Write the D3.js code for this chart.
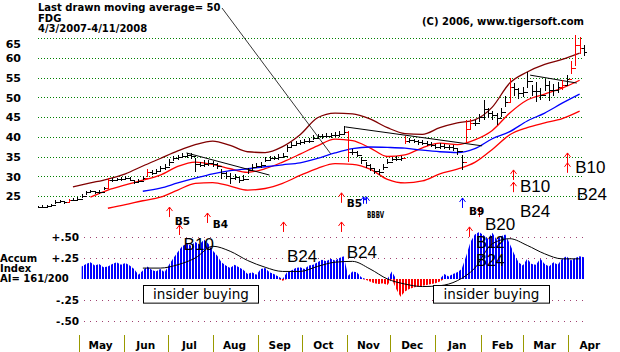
<!DOCTYPE html>
<html>
<head>
<meta charset="utf-8">
<script src="https://cdn.jsdelivr.net/npm/d3@7"></script>
<style>
body { margin: 0; background: #fff; }
svg { display: block; font-family: "DejaVu Sans", sans-serif; }
</style>
</head>
<body>
<svg id="chart" width="620" height="352"></svg>
<script>
// FDG daily bars, one every 3rd calendar day from 4/3/2007
let barStart = new Date(2007, 3, 3)
let closes = [
    22.2,22.3,22.5,22.8,23.5,23.7,23.4,23.9,24.1,24.2,
    25.0,25.9,26.3,25.9,26.1,27.0,29.1,29.0,29.2,29.3,
    29.6,29.1,28.5,28.9,29.6,31.0,30.9,31.3,32.0,32.3,
    33.5,34.5,34.8,35.2,35.3,35.1,33.2,32.9,33.1,33.3,
    33.1,32.6,30.9,30.1,29.6,29.8,29.0,29.4,31.6,32.3,
    32.7,32.9,34.2,34.5,34.6,34.9,35.2,37.4,38.0,38.4,
    38.6,38.8,38.9,39.8,40.2,40.1,40.3,40.4,40.5,40.7,
    41.2,36.2,36.1,35.5,34.0,32.8,32.1,31.4,31.0,32.3,
    33.6,34.4,34.4,34.5,38.8,39.1,38.9,38.6,38.5,38.2,
    38.0,37.5,37.6,37.5,37.3,37.2,36.3,33.5,42.0,43.6,
    43.5,45.0,47.0,46.0,45.5,44.8,46.2,48.8,52.5,52.0,
    51.0,51.3,54.2,51.5,51.5,50.6,53.0,51.8,51.8,52.6,
    53.2,54.5,57.5,63.2,62.5,61.5
]
let highs = [
    22.5,22.6,22.8,23.1,24.0,24.0,23.8,24.3,24.4,24.8,
    25.4,26.2,26.6,26.2,26.5,27.4,29.6,29.5,29.6,29.8,
    30.0,29.7,29.0,29.4,30.1,31.9,31.6,31.8,32.7,33.0,
    34.3,35.2,35.5,35.9,35.9,35.8,34.6,33.7,34.0,34.2,
    33.9,33.4,31.9,31.0,30.8,30.5,29.9,30.2,32.2,33.0,
    33.3,33.6,34.8,35.2,35.2,35.6,35.8,38.0,38.6,39.0,
    39.2,39.4,39.6,40.4,40.8,40.8,40.9,41.0,41.2,41.4,
    42.6,41.5,36.9,36.3,35.0,33.6,33.0,32.2,31.8,33.0,
    34.3,35.0,35.1,35.2,40.2,39.7,39.5,39.2,39.1,38.8,
    38.6,38.2,38.3,38.2,38.0,37.9,37.2,35.5,44.2,44.6,
    44.2,45.8,49.3,47.2,46.6,46.0,47.4,50.2,54.8,53.6,
    52.4,52.6,56.4,53.2,53.8,52.4,54.6,54.2,53.4,53.8,
    54.4,55.6,59.2,65.8,65.2,63.2
]
let lows = [
    22.0,22.0,22.2,22.5,23.1,23.4,23.1,23.6,23.7,23.9,
    24.6,25.3,25.8,25.5,25.6,26.4,26.8,28.6,28.8,28.9,
    29.1,28.7,28.0,28.3,29.1,29.7,30.3,30.7,31.3,31.7,
    32.6,33.8,34.2,34.6,34.7,34.4,31.0,32.3,32.4,32.6,
    32.4,31.8,29.4,29.4,28.0,29.0,28.3,28.7,30.6,31.7,
    32.0,32.2,33.5,33.8,34.0,34.2,34.5,36.2,37.3,37.8,
    38.0,38.2,38.3,39.2,39.6,39.5,39.7,39.8,39.9,40.0,
    40.5,33.6,35.4,34.8,33.2,32.0,31.4,30.6,30.3,31.6,
    33.0,33.8,33.8,33.9,38.2,38.5,38.3,38.0,37.9,37.6,
    37.4,36.9,37.0,36.9,36.6,36.5,35.3,31.5,38.4,41.8,
    42.6,43.8,44.2,44.8,44.3,43.0,45.0,47.6,48.6,50.4,
    49.6,50.0,52.4,50.2,48.8,49.4,51.6,49.0,50.4,51.2,
    51.8,53.2,56.0,58.0,61.0,60.4
]
// bars drawn in red
let redBars = [7, 16, 25, 71, 84, 98, 99, 108, 120, 122, 123, 124]

// Accumulation index, same dates as the bars
let accum = [
    null,null,null,null,null,null,null,null,null,null,
    0.15,0.18,0.20,0.16,0.18,0.14,0.15,0.18,0.20,0.17,
    0.19,0.16,0.12,0.05,0.10,0.15,0.11,0.09,0.12,0.08,
    0.17,0.25,0.32,0.39,0.42,0.40,0.44,0.41,0.47,0.42,
    0.34,0.28,0.20,0.16,0.13,0.17,0.14,0.11,0.06,0.08,
    0.05,0.12,0.13,0.08,0.06,0.03,-0.02,0.08,0.10,0.13,
    0.14,0.12,0.16,0.17,0.20,0.23,0.21,0.24,0.22,0.25,
    0.27,0.04,0.09,0.08,0.02,-0.01,-0.03,-0.05,-0.06,-0.05,
    -0.07,0.09,-0.12,-0.21,-0.15,-0.12,-0.10,-0.09,-0.08,-0.07,
    -0.06,-0.05,-0.03,0.06,0.03,0.06,0.08,0.12,0.27,0.44,
    0.53,0.56,0.52,0.48,0.55,0.47,0.51,0.53,0.42,0.30,
    0.20,0.16,0.24,0.18,0.17,0.24,0.18,0.15,0.20,0.17,
    0.24,0.27,0.22,0.25,0.27,0.26
]

// smooth lines, one value every 12 calendar days
let upperBand = [null,null,27.3,28.3,29.3,30.6,32.6,34.5,36.4,38.0,38.9,37.8,36.2,36.0,37.5,40.5,44.8,46.0,45.8,44.5,42.3,40.8,40.6,42.3,43.5,44.3,47.5,53.6,56.4,58.3,59.6,61.2]
let upperRed = [null,null,null,24.7,26.5,27.8,29.0,30.3,32.5,33.6,33.0,31.9,31.0,31.9,33.6,35.6,37.7,39.4,39.0,37.2,35.0,35.4,37.2,38.4,38.0,39.2,41.6,46.0,49.3,50.8,52.3,54.3]
let ma50 = [null,null,null,null,null,null,26.2,27.0,28.3,29.5,30.6,31.4,31.9,32.4,32.9,33.4,34.5,35.9,37.0,37.4,37.3,37.1,36.6,36.2,36.0,37.0,39.5,41.3,44.0,46.0,48.5,50.8]
let lowerRed = [null,null,null,null,21.9,22.8,23.8,24.7,26.5,28.2,28.4,27.5,26.5,26.9,28.2,30.2,32.0,33.2,33.0,31.8,29.2,28.3,28.8,30.6,31.8,33.5,36.8,40.5,42.3,43.5,44.6,46.5]
let accumMA = [null,null,null,null,null,null,0.13,0.13,0.17,0.25,0.39,0.33,0.22,0.14,0.09,0.09,0.15,0.20,0.21,0.12,0.00,-0.06,-0.09,-0.08,-0.02,0.13,0.42,0.48,0.40,0.30,0.24,0.24]

// trend lines: [from date, from price, to date, to price]
let trendLines = [
    ["2007-07-14", 35.9, "2007-09-09", 30.3],
    ["2007-10-31", 42.5, "2008-02-02", 37.7],
    ["2008-03-06", 55.6, "2008-04-07", 53.6]
]

let priceTicks = [25, 30, 35, 40, 45, 50, 55, 60, 65]
let accumTicks = [0.5, 0.25, -0.25, -0.5]
let accumTickLabels = ["+.50", "+.25", "-.25", "-.50"]
let monthNames = ["May","Jun","Jul","Aug","Sep","Oct","Nov","Dec","Jan","Feb","Mar","Apr"]

// signal arrows: date, panel ("p" price units, "a" accum units), tip level, color
let arrows = [
    ["2007-07-02", "p", 22.2, "red"],
    ["2007-07-09", "a", 0.643, "red"],
    ["2007-07-28", "p", 20.7, "red"],
    ["2007-09-18", "a", 0.679, "red"],
    ["2007-10-28", "p", 25.8, "red"],
    ["2007-10-28", "a", 0.679, "red"],
    ["2007-11-12", "p", 24.8, "blue"],
    ["2007-11-14", "p", 24.8, "blue"],
    ["2008-01-19", "p", 24.5, "blue"],
    ["2008-01-31", "p", 22.2, "red"],
    ["2008-01-24", "a", 0.62, "red"],
    ["2008-02-23", "p", 31.6, "red"],
    ["2008-02-23", "p", 28.5, "red"],
    ["2008-03-31", "p", 35.9, "red"],
    ["2008-03-31", "p", 33.4, "red"]
]
// signal names: date, panel, baseline level, big/small
let signalNames = [
    ["B5", "2007-07-06", "p", 17.7, 0],
    ["B4", "2007-08-01", "p", 16.9, 0],
    ["B10", "2007-07-12", "a", 0.345, 1],
    ["B24", "2007-09-21", "a", 0.202, 1],
    ["B5", "2007-11-01", "p", 22.2, 0],
    ["B24", "2007-11-01", "a", 0.25, 1],
    ["B9", "2008-01-24", "p", 20.2, 0],
    ["B20", "2008-02-04", "p", 16.4, 1],
    ["B10", "2008-02-28", "p", 26.0, 1],
    ["B24", "2008-02-28", "p", 19.7, 1],
    ["B10", "2008-04-06", "p", 30.8, 1],
    ["B24", "2008-04-07", "p", 24.0, 1],
    ["B12", "2008-01-29", "a", 0.37, 1],
    ["B24", "2008-01-29", "a", 0.15, 1]
]
// the cramped cluster of small signal names in November
let crampedSignals = ["BBBV", "2007-11-15", 19.4]
// insider buying boxes: from, to
let insiderBuying = [["2007-06-14", "2007-09-01"], ["2007-12-30", "2008-03-19"]]

let parseDate = d3.timeParse("%Y-%m-%d")
let svg = d3.select("#chart")

let x = d3.scaleTime()
    .domain([barStart, new Date(2008, 3, 12)])
    .range([38, 584])
let y = d3.scaleLinear().domain([25, 65]).range([196, 38])
let ya = d3.scaleLinear().domain([-0.5, 0.5]).range([321, 237])

let barDates = closes.map((c, i) => d3.timeDay.offset(barStart, 3 * i))
let curveDates = upperBand.map((c, i) => d3.timeDay.offset(barStart, 12 * i))

// stripe patterns for the accumulation histogram
let defs = svg.append("defs")
function stripes(id, color) {
    let p = defs.append("pattern").attr("id", id)
        .attr("patternUnits", "userSpaceOnUse")
        .attr("width", 3).attr("height", 4)
    p.append("rect").attr("width", 2).attr("height", 4).attr("fill", color)
}
stripes("blueStripes", "#0000ff")
stripes("redStripes", "#ff0000")

// price grid
svg.append("g").selectAll("line").data(priceTicks).join("line")
    .attr("x1", 38).attr("x2", 583)
    .attr("y1", d => Math.round(y(d)) + 0.5).attr("y2", d => Math.round(y(d)) + 0.5)
    .attr("stroke", "#008000").attr("stroke-dasharray", "1,2")

let yAxis = svg.append("g")
    .attr("transform", "translate(21,0)")
    .call(d3.axisLeft(y).tickValues(priceTicks).tickSize(0).tickPadding(0))
yAxis.select(".domain").remove()
yAxis.selectAll("text")
    .attr("font-family", "DejaVu Sans").attr("font-weight", "bold").attr("font-size", 11)
    .attr("fill", "#000")
    .attr("dy", d => d == 65 ? "0.85em" : "0.35em")

// accum grid
svg.append("g").selectAll("line").data(accumTicks).join("line")
    .attr("x1", 84).attr("x2", 583)
    .attr("y1", d => Math.round(ya(d)) + 0.5).attr("y2", d => Math.round(ya(d)) + 0.5)
    .attr("stroke", "#a04070").attr("stroke-dasharray", "1,5")
svg.append("g").selectAll("text").data(accumTicks).join("text")
    .attr("x", 79).attr("y", d => ya(d) + 4)
    .attr("text-anchor", "end")
    .attr("font-weight", "bold").attr("font-size", 10.5)
    .text((d, i) => accumTickLabels[i])

// accumulation histogram
let accumRows = barDates.map((d, i) => ({date: d, v: accum[i]}))
svg.append("path")
    .datum(accumRows)
    .attr("fill", "url(#blueStripes)")
    .attr("d", d3.area().defined(d => d.v != null)
        .x(d => x(d.date)).y0(ya(0)).y1(d => ya(Math.max(d.v, 0))))
svg.append("path")
    .datum(accumRows)
    .attr("fill", "url(#redStripes)")
    .attr("d", d3.area().defined(d => d.v != null)
        .x(d => x(d.date)).y0(ya(0)).y1(d => ya(Math.min(d.v, 0))))

let smooth = d3.line()
    .defined(d => d.v != null)
    .x(d => x(d.date))
    .curve(d3.curveMonotoneX)

svg.append("path")
    .datum(curveDates.map((d, i) => ({date: d, v: accumMA[i]})))
    .attr("fill", "none").attr("stroke", "#000").attr("stroke-width", 1)
    .attr("d", smooth.y(d => ya(d.v)))

// bands and moving average
let bands = [[upperBand, "#800000"], [upperRed, "#ff0000"], [ma50, "#0000ff"], [lowerRed, "#ff0000"]]
for (let [vals, color] of bands) {
    svg.append("path")
        .datum(curveDates.map((d, i) => ({date: d, v: vals[i]})))
        .attr("fill", "none").attr("stroke", color).attr("stroke-width", 1.3)
        .attr("d", smooth.y(d => y(d.v)))
}

// trend lines
svg.append("g").selectAll("line").data(trendLines).join("line")
    .attr("x1", d => x(parseDate(d[0]))).attr("y1", d => y(d[1]))
    .attr("x2", d => x(parseDate(d[2]))).attr("y2", d => y(d[3]))
    .attr("stroke", "#000").attr("stroke-width", 1)

// price bars: high-low line, previous close on the left, close on the right
let bars = svg.append("g").attr("shape-rendering", "crispEdges")
barDates.forEach(function(d, i) {
    let bx = Math.round(x(d)) + 0.5
    let color = redBars.includes(i) ? "#ff0000" : "#000"
    bars.append("line")
        .attr("x1", bx).attr("x2", bx)
        .attr("y1", y(highs[i])).attr("y2", y(lows[i]))
        .attr("stroke", color)
    if (i > 0) {
        bars.append("line")
            .attr("x1", bx - 2.5).attr("x2", bx)
            .attr("y1", Math.round(y(closes[i - 1])) + 0.5).attr("y2", Math.round(y(closes[i - 1])) + 0.5)
            .attr("stroke", color)
    }
    bars.append("line")
        .attr("x1", bx).attr("x2", bx + 2.5)
        .attr("y1", Math.round(y(closes[i])) + 0.5).attr("y2", Math.round(y(closes[i])) + 0.5)
        .attr("stroke", color).attr("stroke-width", 1.5)
})

// title texts
svg.append("text").attr("x", 38).attr("y", 11)
    .attr("font-weight", "bold").attr("font-size", 10)
    .text("Last drawn moving average= 50")
svg.append("text").attr("x", 38).attr("y", 22)
    .attr("font-weight", "bold").attr("font-size", 10)
    .text("FDG")
svg.append("text").attr("x", 38).attr("y", 32)
    .attr("font-weight", "bold").attr("font-size", 10)
    .text("4/3/2007-4/11/2008")
svg.append("text").attr("x", 422).attr("y", 25)
    .attr("font-weight", "bold").attr("font-size", 10)
    .text("(C) 2006, www.tigersoft.com")

// pointer from the title to the 50-day line
let pointDate = parseDate("2007-10-21")
svg.append("line")
    .attr("x1", 222).attr("y1", 8)
    .attr("x2", x(pointDate)).attr("y2", y(35.7))
    .attr("stroke", "#000").attr("stroke-width", 0.8)

// arrows
for (let [ds, panel, level, color] of arrows) {
    let ax = Math.round(x(parseDate(ds))) + 0.5
    let tip = panel == "p" ? y(level) : ya(level)
    let len = color == "blue" && ds.startsWith("2007-11") ? 7 : 10
    svg.append("path")
        .attr("d", `M${ax},${tip + len}V${tip}M${ax - 3},${tip + 4}L${ax},${tip}L${ax + 3},${tip + 4}`)
        .attr("fill", "none").attr("stroke", color == "red" ? "#ff0000" : "#0000ff")
}

// signal names
for (let [name, ds, panel, level, big] of signalNames) {
    svg.append("text")
        .attr("x", x(parseDate(ds)))
        .attr("y", panel == "p" ? y(level) : ya(level))
        .attr("font-family", big ? "Liberation Sans" : "DejaVu Sans")
        .attr("font-weight", big ? "normal" : "bold")
        .attr("font-size", big ? (name == "B12" || ds == "2008-01-29" ? 16 : 17) : 10.5)
        .text(name)
}
svg.append("text")
    .attr("x", x(parseDate(crampedSignals[1])))
    .attr("y", y(crampedSignals[2]))
    .attr("font-weight", "bold").attr("font-size", 9)
    .attr("textLength", 17).attr("lengthAdjust", "spacingAndGlyphs")
    .text(crampedSignals[0])

// insider buying boxes
for (let [from, to] of insiderBuying) {
    let x0 = Math.round(x(parseDate(from))) + 0.5
    let x1 = Math.round(x(parseDate(to))) + 0.5
    svg.append("rect")
        .attr("x", x0).attr("y", Math.round(ya(-0.07)) + 0.5)
        .attr("width", x1 - x0).attr("height", ya(-0.28) - ya(-0.07))
        .attr("fill", "#fff").attr("stroke", "#000")
    svg.append("text")
        .attr("x", (x0 + x1) / 2).attr("y", ya(-0.235))
        .attr("text-anchor", "middle").attr("font-size", 13.5)
        .text("insider buying")
}

// accum index caption
let caption = ["Accum", "Index", "AI= 161/200"]
svg.append("g").selectAll("text").data(caption).join("text")
    .attr("x", 0).attr("y", (d, i) => 262 + 10 * i)
    .attr("font-weight", "bold").attr("font-size", 10)
    .text(d => d)

// months along the bottom
let monthStarts = d3.timeMonth.range(new Date(2007, 4, 1), new Date(2008, 4, 1))
svg.append("g").selectAll("line").data(monthStarts).join("line")
    .attr("x1", d => Math.round(x(d)) + 0.5).attr("x2", d => Math.round(x(d)) + 0.5)
    .attr("y1", 335).attr("y2", 352)
    .attr("stroke", "#999900")
svg.append("g").selectAll("text").data(monthStarts).join("text")
    .attr("x", d => x(d3.timeDay.offset(d, 15)))
    .attr("y", 349)
    .attr("text-anchor", "middle")
    .attr("font-weight", "bold").attr("font-size", 10.5)
    .text((d, i) => monthNames[i])
</script>
</body>
</html>
